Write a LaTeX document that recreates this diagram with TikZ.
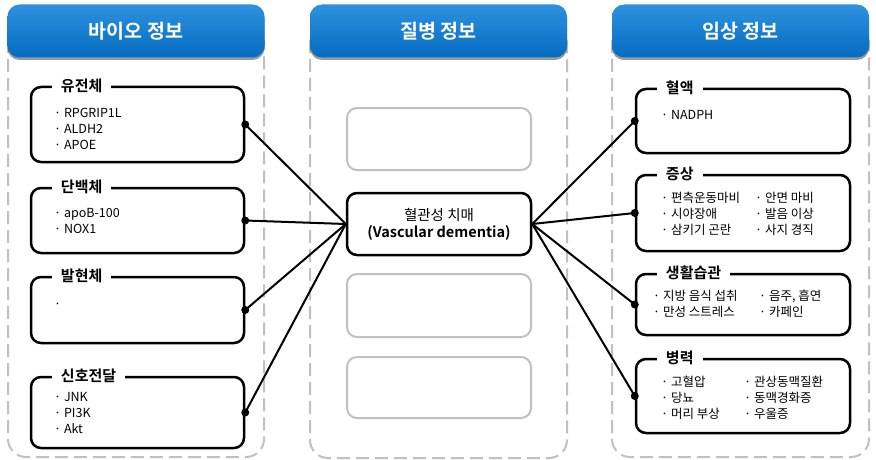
\documentclass[tikz,border=0pt]{standalone}
\usepackage{fontspec}
\setmainfont{Noto Sans CJK KR}[BoldFont={Noto Sans CJK KR Bold}]
\usetikzlibrary{shadows}
\definecolor{hdtop}{RGB}{45,145,222}
\definecolor{hdbot}{RGB}{4,108,192}
\definecolor{dashgray}{RGB}{192,192,192}
\pgfdeclarelayer{bglayer}
\pgfdeclarelayer{connlayer}
\pgfsetlayers{bglayer,connlayer,main}
\newcommand\itemcol[4]{%
  \foreach \t [count=\i] in {#4} \node[item] (#1\i) at (#2, {#3+16*(\i-1)}) {·\ \t};}
\begin{document}
\begin{tikzpicture}[x=1pt,y=-1pt,
  col/.style={draw=dashgray, line width=2pt, dash pattern=on 13pt off 6pt, rounded corners=18pt},
  header/.style={rounded corners=12pt, top color=hdtop, bottom color=hdbot, draw=none,
    minimum width=257pt, minimum height=53pt, text=white,
    font=\fontsize{19.5}{22}\selectfont\bfseries,
    drop shadow={shadow xshift=0pt, shadow yshift=-2.5pt, opacity=0.4, fill=black}},
  box/.style={draw, line width=2.5pt, rounded corners=10pt, fill=white, inner sep=0pt},
  gbox/.style={draw=dashgray, line width=2pt, rounded corners=10pt, inner sep=0pt},
  ttl/.style={fill=white, inner xsep=9pt, inner ysep=1pt, anchor=west,
    font=\fontsize{15}{18}\selectfont\bfseries},
  item/.style={anchor=base west, inner sep=0pt, font=\fontsize{12.5}{15}\selectfont},
  conn/.style={line width=2pt},
  dot/.style={fill=black}]
\useasboundingbox (0,0) rectangle (876,460);

\begin{pgfonlayer}{bglayer}
% dashed columns
\draw[col] (8,40) -- (8,457) -- (264,457) -- (264,40);
\draw[col] (310,40) -- (310,458) -- (567,458) -- (567,40);
\draw[col] (612,40) -- (612,457) -- (869,457) -- (869,40);
% headers
\node[header] (h1) at (136,31) {바이오 정보};
\node[header] (h2) at (438.5,31) {질병 정보};
\node[header] (h3) at (740.5,31) {임상 정보};
% middle gray boxes
\node[gbox, minimum width=184pt, minimum height=62pt] (gb1) at (439,139) {};
\node[gbox, minimum width=184pt, minimum height=63pt] (gb2) at (439,305.5) {};
\node[gbox, minimum width=184pt, minimum height=61pt] (gb3) at (439,387.5) {};
\end{pgfonlayer}

% boxes
\node[box, minimum width=213pt, minimum height=75pt] (gene) at (137.5,124.5) {};
\node[box, minimum width=213pt, minimum height=65pt] (prot) at (137.5,220.5) {};
\node[box, minimum width=213pt, minimum height=66pt] (expr) at (137.5,310) {};
\node[box, minimum width=213pt, minimum height=71pt] (sig) at (137.5,412.5) {};
\node[box, minimum width=214pt, minimum height=64pt] (blood) at (743,121) {};
\node[box, minimum width=214pt, minimum height=76pt] (symp) at (743,213) {};
\node[box, minimum width=214pt, minimum height=61pt] (life) at (743,304.5) {};
\node[box, minimum width=214pt, minimum height=74pt] (hist) at (743,396) {};

\node[box, minimum width=184pt, minimum height=62pt, align=center,
  font=\fontsize{14.5}{17}\selectfont] (vd) at (439,224)
  {혈관성 치매\\{\bfseries (Vascular dementia)}};

% connectors
\begin{pgfonlayer}{connlayer}
\foreach \b in {gene,prot,expr,sig} \draw[conn] (\b.east) -- (vd.west);
\foreach \b in {blood,symp,life,hist} \draw[conn] (\b.west) -- (vd.east);
\end{pgfonlayer}

% titles
\node[ttl] (tgene) at ([xshift=22pt]gene.north west) {유전체};
\node[ttl] (tprot) at ([xshift=22pt]prot.north west) {단백체};
\node[ttl] (texpr) at ([xshift=22pt]expr.north west) {발현체};
\node[ttl] (tsig) at ([xshift=22pt]sig.north west) {신호전달};
\node[ttl] (tblood) at ([xshift=22pt]blood.north west) {혈액};
\node[ttl] (tsymp) at ([xshift=22pt]symp.north west) {증상};
\node[ttl] (tlife) at ([xshift=22pt]life.north west) {생활습관};
\node[ttl] (thist) at ([xshift=22pt]hist.north west) {병력};

% items
\itemcol{gi}{54}{117.5}{RPGRIP1L,ALDH2,APOE}
\itemcol{pi}{54}{217.5}{apoB-100,NOX1}
\node[item] (ei1) at (54,308) {·};
\itemcol{si}{54}{401.5}{JNK,PI3K,Akt}
\itemcol{bi}{661}{120}{NADPH}
\itemcol{sa}{661}{202.5}{편측운동마비,시야장애,삼키기 곤란}
\itemcol{sb}{755}{202.5}{안면 마비,발음 이상,사지 경직}
\itemcol{la}{653}{300.5}{지방 음식 섭취,만성 스트레스}
\itemcol{lb}{759}{300.5}{{음주, 흡연},카페인}
\itemcol{ha}{661}{386.5}{고혈압,당뇨,머리 부상}
\itemcol{hb}{744}{386.5}{관상동맥질환,동맥경화증,우울증}

% dots
\foreach \b in {gene,prot,expr,sig} \fill[dot] (\b.east) circle (4pt);
\foreach \b in {blood,symp,life,hist} \fill[dot] (\b.west) circle (4pt);
\end{tikzpicture}
\end{document}
